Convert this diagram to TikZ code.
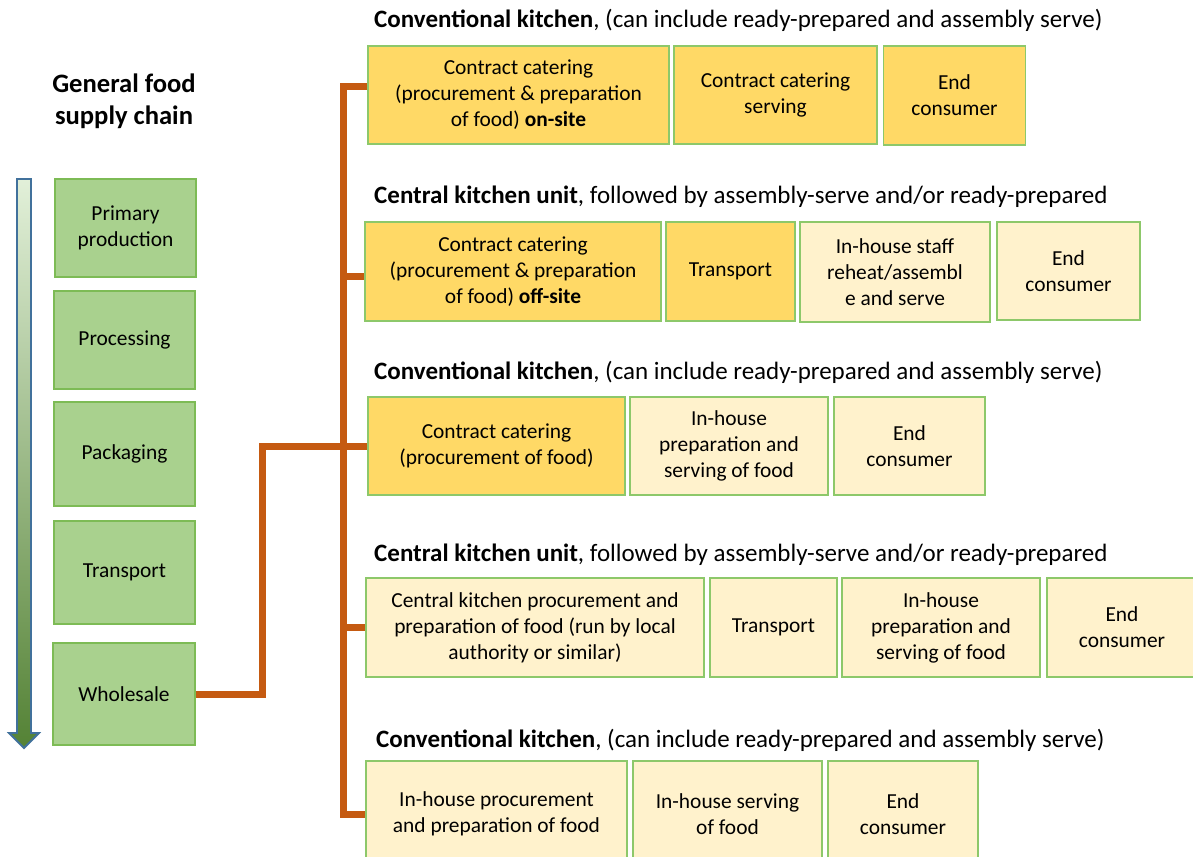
\documentclass[tikz,border=0pt]{standalone}
\usepackage{fontspec}
\setmainfont{Carlito}
\usetikzlibrary{calc}
\definecolor{leftfill}{HTML}{A9D18E}
\definecolor{leftdraw}{HTML}{7DBB55}
\definecolor{ofill}{HTML}{FFD966}
\definecolor{lfill}{HTML}{FFF2CC}
\definecolor{bdraw}{HTML}{8DC86A}
\definecolor{connc}{HTML}{C55A11}
\definecolor{arrtop}{HTML}{E2F0D9}
\definecolor{arrbot}{HTML}{548235}
\definecolor{arrdraw}{HTML}{41719C}
\tikzset{
  boxbase/.style={draw=bdraw, line width=1.4pt, align=center, inner sep=1pt,
    font=\fontsize{21.4}{26}\selectfont},
  leftbox/.style={boxbase, fill=leftfill, draw=leftdraw},
  obox/.style={boxbase, fill=ofill},
  lbox/.style={boxbase, fill=lfill},
  titletext/.style={anchor=west, inner sep=0pt, font=\fontsize{25}{30}\selectfont},
  conn/.style={draw=connc, line width=7pt},
}
\begin{document}
\begin{tikzpicture}[x=1pt,y=-1pt]
\clip (0,0) rectangle (1193,856);
\fill[white] (0,0) rectangle (1193,856);

% left column
\node[font=\fontsize{26.6}{32}\selectfont\bfseries, align=center] (gtitle) at (124,101) {General food\\supply chain};
\shade[top color=arrtop, bottom color=arrbot, draw=arrdraw, line width=1.8pt]
  (17,179) -- (31,179) -- (31,733) -- (39,733) -- (24,748) -- (9,733) -- (17,733) -- cycle;
\node[leftbox, minimum width=141pt, minimum height=98pt] (pp) at (125.5,228) {Primary\\production};
\node[leftbox, minimum width=141pt, minimum height=98pt] (pr) at (124.5,340) {Processing};
\node[leftbox, minimum width=141pt, minimum height=104pt] (pk) at (124.5,454) {Packaging};
\node[leftbox, minimum width=141pt, minimum height=103pt] (tr) at (124.5,572.5) {Transport};
\node[leftbox, minimum width=142pt, minimum height=102pt] (ws) at (124,694) {Wholesale};

% row 1
\node[titletext] (t1) at (374,20) {\textbf{Conventional kitchen}, (can include ready-prepared and assembly serve)};
\node[obox, minimum width=301pt, minimum height=98pt] (a1) at (518.5,95) {Contract catering\\(procurement \& preparation\\of food) \textbf{on-site}};
\node[obox, minimum width=203pt, minimum height=98pt] (a2) at (775.5,95) {Contract catering\\serving};
\node[obox, minimum width=142pt, minimum height=99pt] (a3) at (954.5,95.5) {End\\consumer};

% row 2
\node[titletext] (t2) at (374,197) {\textbf{Central kitchen unit}, followed by assembly-serve and/or ready-prepared};
\node[obox, minimum width=296pt, minimum height=99pt] (b1) at (513,271.5) {Contract catering\\(procurement \& preparation\\of food) \textbf{off-site}};
\node[obox, minimum width=129pt, minimum height=99pt] (b2) at (730.5,271.5) {Transport};
\node[lbox, minimum width=190pt, minimum height=100pt] (b3) at (895,272) {In-house staff\\reheat/assembl\\e and serve};
\node[lbox, minimum width=143pt, minimum height=98pt] (b4) at (1068.5,271) {End\\consumer};

% row 3
\node[titletext] (t3) at (374,372) {\textbf{Conventional kitchen}, (can include ready-prepared and assembly serve)};
\node[obox, minimum width=257pt, minimum height=98pt] (c1) at (496.5,446) {Contract catering\\(procurement of food)};
\node[lbox, minimum width=198pt, minimum height=98pt] (c2) at (729,446) {In-house\\preparation and\\serving of food};
\node[lbox, minimum width=151pt, minimum height=98pt] (c3) at (909.5,446) {End\\consumer};

% row 4
\node[titletext] (t4) at (374,555) {\textbf{Central kitchen unit}, followed by assembly-serve and/or ready-prepared};
\node[lbox, minimum width=338pt, minimum height=99pt] (d1) at (535,627.5) {Central kitchen procurement and\\preparation of food (run by local\\authority or similar)};
\node[lbox, minimum width=127pt, minimum height=99pt] (d2) at (773.5,627.5) {Transport};
\node[lbox, minimum width=198pt, minimum height=99pt] (d3) at (941,627.5) {In-house\\preparation and\\serving of food};
\node[lbox, minimum width=150pt, minimum height=99pt, text width=146pt] (d4) at (1122,627.5) {End\\consumer};

% row 5
\node[titletext] (t5) at (376,740) {\textbf{Conventional kitchen}, (can include ready-prepared and assembly serve)};
\node[lbox, minimum width=261pt, minimum height=106pt] (e1) at (496.5,814) {In-house procurement\\and preparation of food};
\node[lbox, minimum width=189pt, minimum height=106pt] (e2) at (727.5,814) {In-house serving\\of food};
\node[lbox, minimum width=150pt, minimum height=106pt] (e3) at (903,814) {End\\consumer};

% connectors
\coordinate (tx) at (343,0);
\coordinate (wx) at (262,0);
\coordinate (a1in) at ($(a1.west)+(0,-8)$);
\coordinate (b1in) at ($(b1.west)+(0,4.5)$);
\draw[conn] (a1in) -| (tx |- e1.west) -- (e1.west);
\draw[conn] (tx |- b1in) -- (b1in);
\draw[conn] (tx |- d1.west) -- (d1.west);
\draw[conn] (ws.east) -| (wx |- c1.west) -- (c1.west);
\end{tikzpicture}
\end{document}
